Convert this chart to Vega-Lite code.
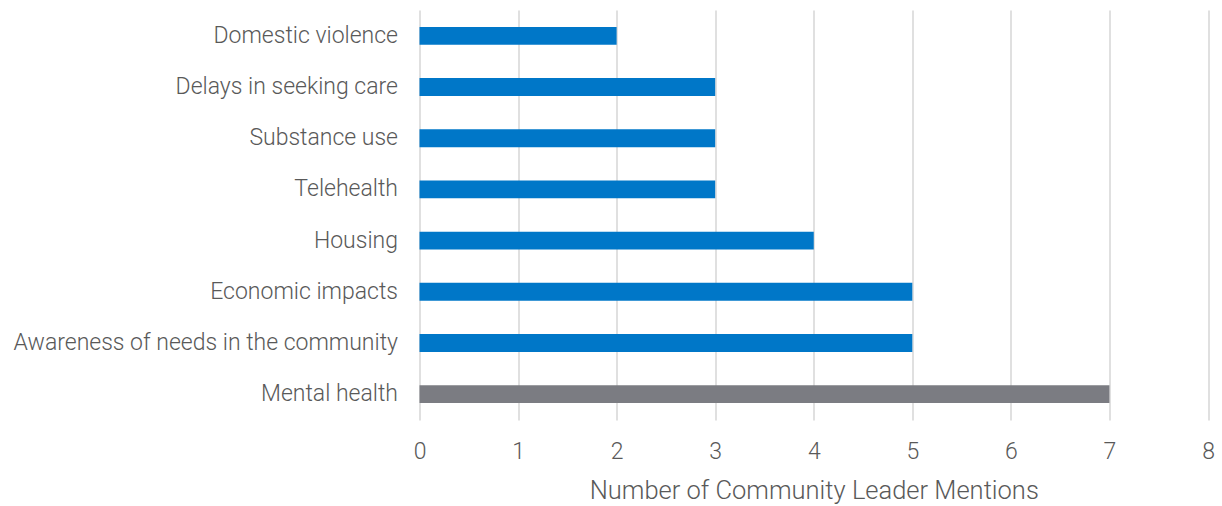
{
  "$schema": "https://vega.github.io/schema/vega-lite/v6.json",
  "autosize": {"type": "none"},
  "width": 788.5,
  "height": 410,
  "padding": {"left": 419.5, "top": 10, "right": 14, "bottom": 86},
  "background": "white",
  "config": {"view": {"stroke": null}},
  "data": {"values": [
    {"topic": "Domestic violence", "mentions": 2, "group": "other"},
    {"topic": "Delays in seeking care", "mentions": 3, "group": "other"},
    {"topic": "Substance use", "mentions": 3, "group": "other"},
    {"topic": "Telehealth\u00a0", "mentions": 3, "group": "other"},
    {"topic": "Housing", "mentions": 4, "group": "other"},
    {"topic": "Economic impacts", "mentions": 5, "group": "other"},
    {"topic": "Awareness of needs in the community", "mentions": 5, "group": "other"},
    {"topic": "Mental health", "mentions": 7, "group": "top"}
  ]},
  "mark": {"type": "bar"},
  "encoding": {
    "y": {
      "field": "topic", "type": "nominal", "sort": null,
      "scale": {"paddingInner": 0.65, "paddingOuter": 0.33},
      "axis": {
        "title": null, "domain": false, "ticks": false, "labelPadding": 22,
        "labelFont": "Roboto", "labelFontWeight": 300, "labelFontSize": 23, "labelColor": "#595959",
        "labelLimit": 500
      }
    },
    "x": {
      "field": "mentions", "type": "quantitative",
      "scale": {"domain": [0, 8], "nice": false},
      "axis": {
        "values": [0,1,2,3,4,5,6,7,8], "format": "d", "labelFlush": false,
        "title": "Number of Community Leader Mentions",
        "titleFont": "Roboto", "titleFontSize": 25.5, "titleFontWeight": 300,
        "titleColor": "#595959", "titlePadding": 15,
        "labelFont": "Roboto", "labelFontWeight": 300, "labelFontSize": 23, "labelColor": "#595959",
        "labelPadding": 20,
        "domain": false, "ticks": false,
        "grid": true, "gridColor": "#e0e0e0", "gridWidth": 2
      }
    },
    "color": {
      "field": "group", "type": "nominal",
      "scale": {"domain": ["other", "top"], "range": ["#0077c8", "#7b7c82"]},
      "legend": null
    }
  }
}
